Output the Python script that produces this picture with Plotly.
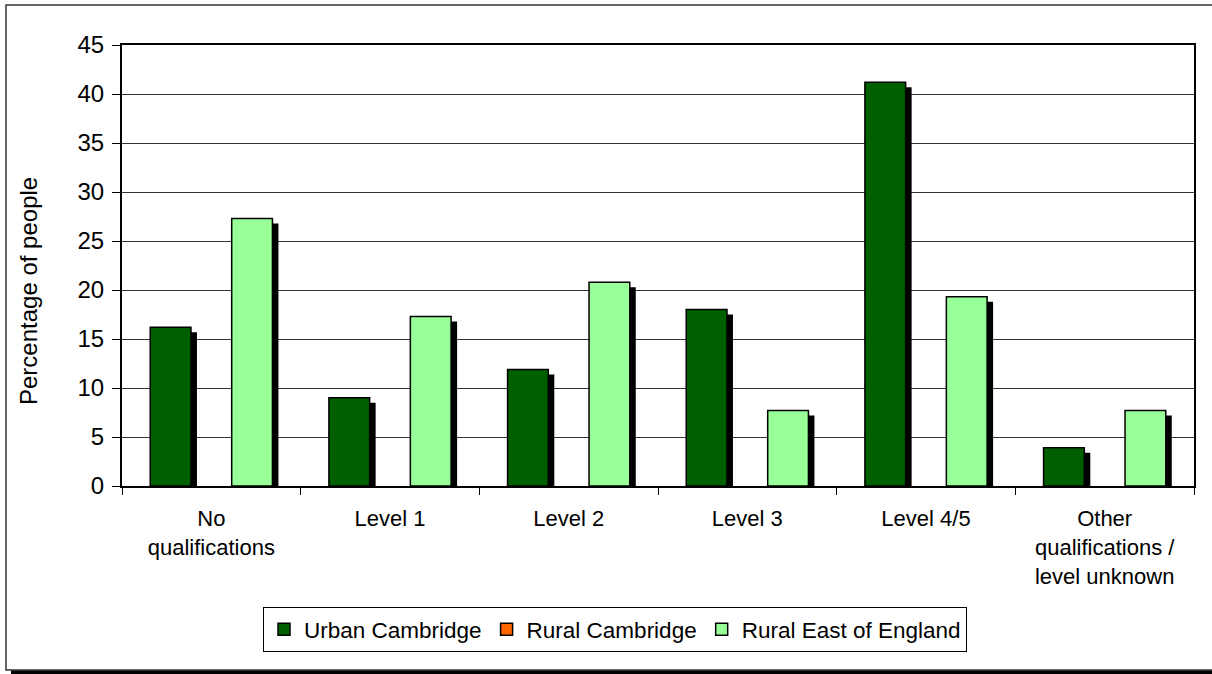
import plotly.graph_objects as go

categories = ["No<br>qualifications", "Level 1", "Level 2", "Level 3", "Level 4/5",
              "Other<br>qualifications /<br>level unknown"]
urban_cambridge = [16.2, 9.0, 11.9, 18.0, 41.2, 3.9]
rural_cambridge = [None, None, None, None, None, None]
rural_east = [27.3, 17.3, 20.8, 7.7, 19.3, 7.7]
y_ticks = [0, 5, 10, 15, 20, 25, 30, 35, 40, 45]
y_title = "Percentage of people"

W, H = 1212, 674
ml, mr, mt, mb = 122, 18, 45, 188
pw, ph = W - ml - mr, H - mt - mb
ymax = 45

FONT = "Liberation Sans, Arial, sans-serif"
bw = 0.228              # bar width in category units
sh_dx = 6 / pw * len(categories)   # shadow shift right (category units)
sh_dy = 5 / ph * ymax              # shadow shift down (value units)

series = [
    ("Urban Cambridge", urban_cambridge, "#006000", -1.5 * bw),
    ("Rural Cambridge", rural_cambridge, "#FF6600", -0.5 * bw),
    ("Rural East of England", rural_east, "#99FF99", 0.5 * bw),
]

fig = go.Figure()
# shadows first
for name, vals, col, off in series:
    sv = [None if v is None else max(v - sh_dy, 0) for v in vals]
    fig.add_trace(go.Bar(x=categories, y=sv, width=bw, offset=off + sh_dx,
                         marker=dict(color="black", line=dict(width=0)),
                         showlegend=False, hoverinfo="skip"))
for name, vals, col, off in series:
    fig.add_trace(go.Bar(x=categories, y=vals, name=name, width=bw, offset=off,
                         marker=dict(color=col, line=dict(color="black", width=1.5))))

def px(x):
    return (x - ml) / pw

def py(y):
    return (H - mb - y) / ph

shapes = [
    dict(type="rect", xref="paper", yref="paper", x0=px(6), x1=px(1220), y0=py(670), y1=py(5),
         line=dict(color="#333333", width=1.5), fillcolor="rgba(0,0,0,0)", layer="below"),
    dict(type="rect", xref="paper", yref="paper", x0=px(11), x1=px(1220), y0=py(674), y1=py(670.5),
         line=dict(width=0), fillcolor="black", layer="below"),
]

fig.update_layout(
    width=W, height=H,
    margin=dict(l=ml, r=mr, t=mt, b=mb, autoexpand=False),
    paper_bgcolor="white", plot_bgcolor="white",
    barmode="overlay",
    font=dict(family=FONT, size=22, color="black"),
    shapes=shapes,
    annotations=[dict(text=y_title, xref="paper", yref="paper", x=px(28), y=py(291),
                      xanchor="center", yanchor="middle", textangle=-90, showarrow=False,
                      font=dict(size=24))],
    legend=dict(orientation="h", x=px(615), xanchor="center", y=py(607), yanchor="top",
                bordercolor="black", borderwidth=1, font=dict(size=22.5),
                itemwidth=30, tracegroupgap=0, traceorder="normal"),
    xaxis=dict(type="category", tickson="boundaries", ticks="outside", ticklen=7,
               tickwidth=1, tickcolor="black", showline=True, linecolor="black",
               linewidth=2, mirror=True, showgrid=False, range=[-0.5, 5.5],
               tickfont=dict(size=22), ticklabelstandoff=12),
    yaxis=dict(range=[0, ymax], tickvals=y_ticks, ticks="outside", ticklen=8,
               tickwidth=1, tickcolor="black", showline=True, linecolor="black",
               linewidth=2, mirror=True, showgrid=True, gridcolor="#333333",
               gridwidth=1, zeroline=False, tickfont=dict(size=24), ticklabelstandoff=3),
)

fig.write_html("out.html", config={"displayModeBar": False},
               post_script="document.body.style.margin='0';document.body.style.overflow='hidden';")
